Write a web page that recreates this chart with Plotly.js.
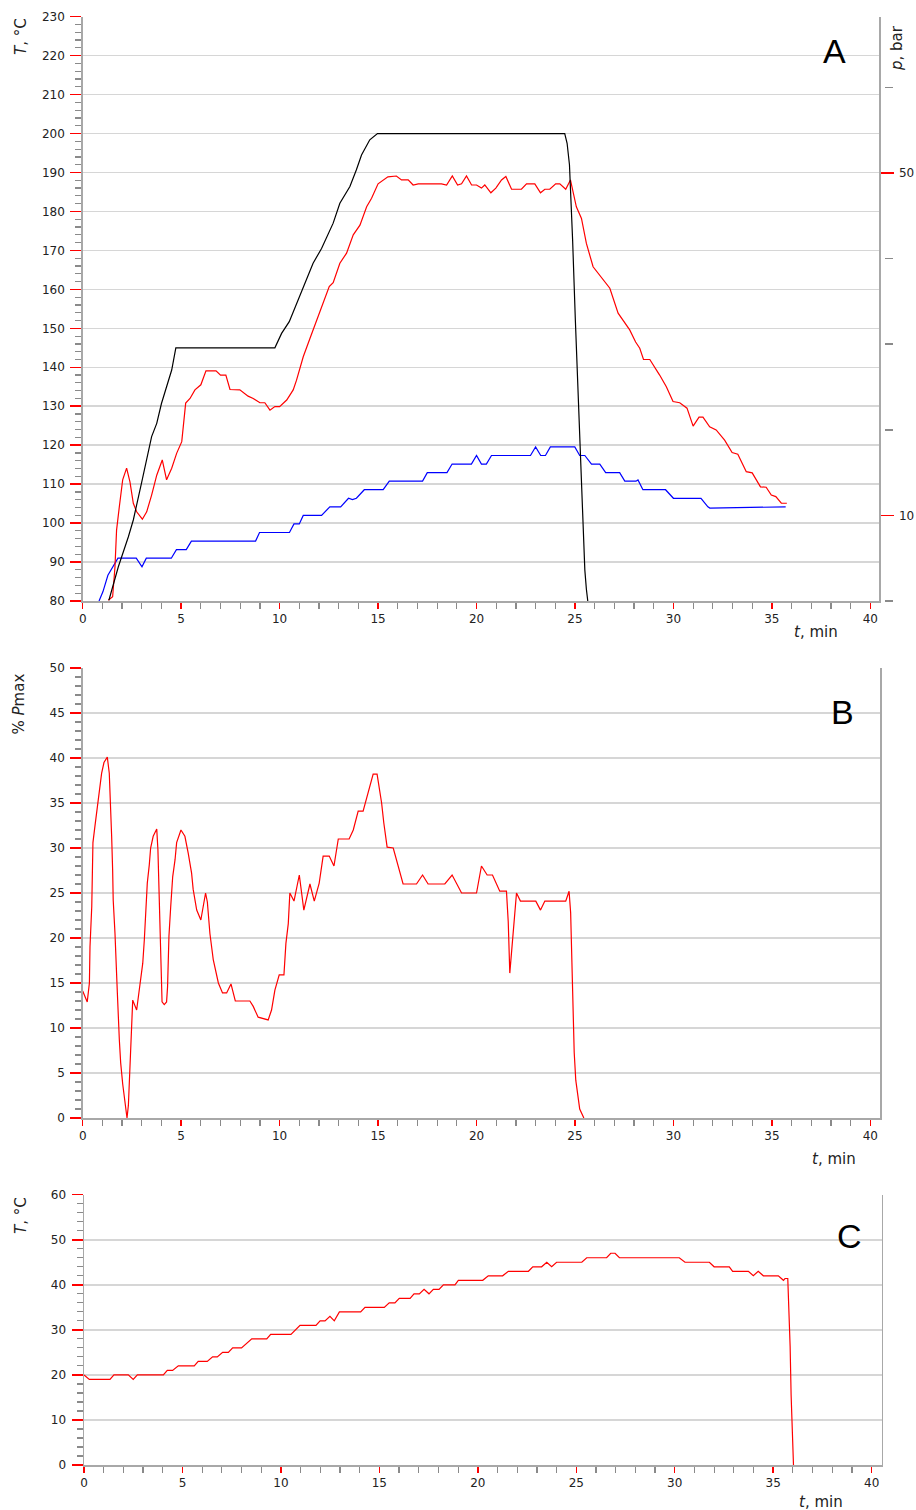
<!DOCTYPE html>
<html>
<head>
<meta charset="utf-8">
<script src="https://cdn.plot.ly/plotly-3.0.1.min.js"></script>
<style>
html,body{margin:0;padding:0;background:#fff;}
#chart{width:916px;height:1510px;}
</style>
</head>
<body>
<div id="chart"></div>
<script>
// ---------- Panel A : temperature (T, °C) and pressure (p, bar) ----------
var tBlack = [1.33, 1.55, 1.81, 2.32, 2.57, 3.0, 3.5, 3.76, 4.0, 4.52, 4.73, 9.76, 10.1, 10.49, 10.94, 11.2, 11.7, 12.13, 12.72, 13.06, 13.57, 13.9, 14.16, 14.58, 14.97, 24.48, 24.6, 24.72, 24.8, 24.88, 25.02, 25.22, 25.37, 25.5, 25.58, 25.65];
var TBlack = [80.2, 84.1, 88.8, 96.5, 100.8, 110.6, 122.2, 125.6, 130.7, 139.3, 145, 145, 148.7, 151.7, 157.3, 160.7, 166.7, 170.5, 177, 182.1, 186.4, 190.7, 194.5, 198.4, 200, 200, 197.5, 192, 183, 172.7, 152, 125, 100.8, 88, 83, 80];

var tRed = [1.3, 1.52, 1.64, 1.72, 1.86, 2.03, 2.23, 2.4, 2.57, 2.74,
  3.03, 3.25, 3.5, 3.76, 4.04, 4.26, 4.52, 4.77, 5.03, 5.23,
  5.45, 5.7, 6.0, 6.26, 6.77, 7.0, 7.27, 7.48, 7.98, 8.4,
  8.66, 9.0, 9.25, 9.51, 9.76, 10.0, 10.36, 10.69, 10.86, 11.03,
  11.2, 11.54, 11.88, 12.21, 12.52, 12.72, 13.06, 13.4, 13.74, 14.08,
  14.42, 14.67, 15.0, 15.5, 15.93, 16.19, 16.53, 16.78, 17.04, 18.22,
  18.48, 18.77, 19.04, 19.24, 19.49, 19.75, 20.0, 20.25, 20.42, 20.73,
  20.98, 21.27, 21.49, 21.78, 22.28, 22.54, 22.96, 23.25, 23.47, 23.72,
  24.02, 24.23, 24.53, 24.77, 24.9, 25.07, 25.33, 25.58, 25.92, 26.17,
  26.51, 26.77, 27.19, 27.44, 27.78, 28.08, 28.29, 28.48, 28.8, 29.3,
  29.64, 29.98, 30.32, 30.69, 31.0, 31.3, 31.5, 31.84, 32.17, 32.6,
  32.98, 33.27, 33.7, 34.0, 34.42, 34.71, 34.97, 35.2, 35.48, 35.76];
var TRed = [80.2, 81.1, 88.8, 98.2, 104.2, 111.1, 114.1, 110.6, 105.1, 102.9,
  101, 102.9, 107.2, 112.3, 116.2, 111.1, 114.1, 117.9, 120.9, 130.8,
  132, 134.2, 135.5, 139.1, 139.1, 138, 138, 134.3, 134.2, 132.6,
  132, 130.9, 130.9, 129, 129.9, 129.9, 131.6, 134.2, 136.7, 139.7,
  142.7, 147.4, 152.1, 156.4, 160.7, 161.7, 166.7, 169.3, 174, 176.5,
  181.2, 183.4, 187.1, 188.9, 189.1, 188.1, 188.1, 186.8, 187.1, 187.1,
  186.8, 189.1, 186.8, 187.1, 189.1, 186.8, 186.8, 186, 186.8, 184.8,
  186, 188.1, 189, 185.7, 185.7, 187.1, 187.1, 184.8, 185.7, 185.7,
  187.1, 187.1, 185.7, 188.1, 185.1, 181.2, 178.2, 171.8, 165.8, 164.1,
  162, 160.3, 153.9, 152.1, 149.6, 146.5, 144.9, 142, 142, 138,
  135, 131.2, 130.9, 129.5, 124.9, 127.2, 127.2, 124.7, 123.9, 121.3,
  118.1, 117.7, 113.2, 112.9, 109.3, 109.2, 107.2, 106.8, 105.1, 105.1];

var tBlue = [0.83, 1.03, 1.28, 1.54, 1.79, 2.72, 3.01, 3.23, 4.5, 4.76,
  5.26, 5.52, 8.78, 8.98, 10.5, 10.73, 11.0, 11.2, 12.13, 12.55,
  13.1, 13.5, 13.7, 13.9, 14.3, 15.26, 15.57, 17.26, 17.5, 18.5,
  18.76, 19.74, 20.0, 20.25, 20.5, 20.76, 22.74, 23.0, 23.26, 23.5,
  23.75, 24.99, 25.24, 25.5, 25.84, 26.26, 26.56, 27.27, 27.53, 28.1,
  28.2, 28.45, 29.6, 30.0, 31.4, 31.75, 31.85, 35.7];
var pBlue = [0, 1.1, 3, 4, 5, 5, 4, 5, 5, 6,
  6, 7, 7, 8, 8, 9, 9, 10, 10, 11,
  11, 12, 11.85, 12, 13, 13, 14, 14, 15, 15,
  16, 16, 17, 16, 16, 17, 17, 18, 17, 17,
  18, 18, 17, 17, 16, 16, 15, 15, 14, 14,
  14.15, 13, 13, 12, 12, 11, 10.85, 11];

var pTickLabelled = [10, 50];
var pTickPlain = [0, 20, 30, 40, 60];

// ---------- Panel B : % Pmax ----------
var tB = [0, 0.23, 0.34, 0.37, 0.46, 0.52, 0.62, 0.79, 0.96, 1.08,
  1.25, 1.35, 1.42, 1.47, 1.52, 1.55, 1.64, 1.69, 1.76, 1.86,
  1.93, 2.03, 2.15, 2.25, 2.32, 2.37, 2.44, 2.49, 2.54, 2.74,
  2.89, 3.05, 3.13, 3.2, 3.28, 3.38, 3.45, 3.58, 3.76, 3.82,
  3.86, 3.92, 3.97, 4.03, 4.14, 4.26, 4.31, 4.38, 4.47, 4.57,
  4.69, 4.77, 4.99, 5.19, 5.36, 5.53, 5.61, 5.79, 6.0, 6.24,
  6.33, 6.46, 6.63, 6.89, 7.1, 7.31, 7.53, 7.75, 8.49, 8.66,
  8.91, 9.25, 9.42, 9.59, 9.76, 9.98, 10.22, 10.32, 10.44, 10.52,
  10.73, 11.0, 11.23, 11.54, 11.76, 12.01, 12.21, 12.52, 12.76, 12.98,
  13.53, 13.74, 13.99, 14.24, 14.5, 14.75, 14.95, 15.18, 15.29, 15.46,
  15.77, 16.02, 16.27, 16.53, 16.95, 17.26, 17.54, 18.39, 18.76, 19.24,
  20.0, 20.25, 20.54, 20.81, 21.18, 21.52, 21.61, 21.69, 21.81, 21.91,
  22.03, 22.23, 23.01, 23.25, 23.47, 24.53, 24.7, 24.78, 24.83, 24.88,
  24.96, 25.04, 25.16, 25.24, 25.45];
var PB = [14.1, 12.9, 15, 19, 23.5, 30.6, 32.4, 35.7, 38.3, 39.5,
  40.1, 38.3, 35, 31.3, 27.6, 24.2, 20.5, 17.2, 13.9, 8.7,
  6.1, 3.8, 1.6, 0, 1.4, 4.6, 8.3, 11.6, 13.1, 12,
  14.4, 17.2, 19.8, 22.4, 26.1, 28.1, 30, 31.3, 32.1, 29.8,
  26.8, 20.2, 16.4, 12.9, 12.6, 12.9, 14.6, 20.2, 23.5, 26.8,
  28.7, 30.6, 32, 31.3, 29.4, 27.2, 25.4, 23.1, 22, 25,
  24, 20.5, 17.6, 15, 13.9, 13.9, 14.9, 13, 13, 12.4,
  11.2, 11, 10.9, 12, 14.2, 15.9, 15.9, 19.4, 21.6, 25,
  24.1, 27, 23.1, 26, 24.1, 26.1, 29.1, 29.1, 28, 31,
  31, 32, 34.1, 34.1, 36.1, 38.2, 38.2, 35, 32.8, 30.1,
  30, 28, 26, 26, 26, 27, 26, 26, 27, 25,
  25, 28, 27, 27, 25.2, 25.2, 21.8, 16.1, 19, 21.6,
  25, 24.1, 24.1, 23.1, 24.1, 24.1, 25.2, 22.8, 17.6, 12.6,
  7.3, 4.2, 2.2, 1.0, 0];

// ---------- Panel C : temperature (T, °C) ----------
var tC = [0, 0.27, 1.32, 1.52, 2.25, 2.5, 2.71, 4.03, 4.23, 4.5,
  4.79, 5.6, 5.8, 6.26, 6.53, 6.77, 7.04, 7.33, 7.55, 8.0,
  8.52, 9.28, 9.48, 10.51, 10.97, 11.78, 11.99, 12.24, 12.49, 12.71,
  12.97, 14.05, 14.27, 15.25, 15.5, 15.79, 16.01, 16.56, 16.76, 17.03,
  17.27, 17.52, 17.74, 18.03, 18.25, 18.84, 19.01, 20.25, 20.53, 21.26,
  21.55, 22.57, 22.79, 23.24, 23.5, 23.75, 24.0, 25.28, 25.53, 26.54,
  26.75, 26.97, 27.19, 30.23, 30.52, 31.76, 32.0, 32.77, 32.94, 33.74,
  33.99, 34.24, 34.5, 35.26, 35.52, 35.6, 35.74, 35.79, 35.86, 35.91,
  35.98, 36.03];
var TC = [20, 19, 19, 20, 20, 19, 20, 20, 21, 21,
  22, 22, 23, 23, 24, 24, 25, 25, 26, 26,
  28, 28, 29, 29, 31, 31, 32, 32, 33, 32,
  34, 34, 35, 35, 36, 36, 37, 37, 38, 38,
  39, 38, 39, 39, 40, 40, 41, 41, 42, 42,
  43, 43, 44, 44, 45, 44, 45, 45, 46, 46,
  47, 47, 46, 46, 45, 45, 44, 44, 43, 43,
  42, 43, 42, 42, 41, 41.4, 41.4, 36.3, 26.3, 15.5,
  4.8, 0];

// ---------- layout helpers ----------
var W = 916, H = 1510;
function px(x){ return x / W; }
function py(y){ return 1 - y / H; }

var TICKFONT = {family: 'DejaVu Sans', size: 12, color: '#222'};
var TITLEFONT = {family: 'DejaVu Sans', size: 15, color: '#222'};
var GRID = '#d6d6d6';
var AXLINE = '#a8a8a8';
var RED = '#ff0000';

function xAxis(dom, rng, anchor) {
  return {
    domain: dom, range: rng, anchor: anchor,
    showgrid: false, zeroline: false,
    showline: true, linecolor: AXLINE, linewidth: 1.5,
    ticks: 'outside', ticklen: 6, tickwidth: 1.5, tickcolor: RED,
    tick0: 0, dtick: 5, tickfont: TICKFONT,
    minor: {ticks: 'outside', dtick: 1, ticklen: 6, tickwidth: 1.2, tickcolor: '#8a8a8a', showgrid: false}
  };
}
function yAxis(dom, rng, dtick, mdtick, anchor) {
  return {
    domain: dom, range: rng, anchor: anchor,
    showgrid: true, gridcolor: GRID, gridwidth: 1.5, zeroline: false,
    showline: true, linecolor: AXLINE, linewidth: 1.5, mirror: true,
    ticks: 'outside', ticklen: 11, tickwidth: 1.5, tickcolor: RED,
    tick0: 0, dtick: dtick, tickfont: TICKFONT, ticklabelstandoff: 3,
    minor: {ticks: 'outside', dtick: mdtick, ticklen: 6, tickwidth: 1.2, tickcolor: '#8a8a8a', showgrid: false}
  };
}

var domA = [py(601), py(16.7)];
var domB = [py(1118), py(668)];
var domC = [py(1465), py(1194.7)];

var traces = [
  {x: [null], y: [null], xaxis: 'x', yaxis: 'y', mode: 'lines', showlegend: false, hoverinfo: 'skip'},
  {x: tBlue, y: pBlue, xaxis: 'x', yaxis: 'y2', mode: 'lines', name: 'p',
   line: {color: '#0000ff', width: 1.2}},
  {x: tRed, y: TRed, xaxis: 'x', yaxis: 'y3', mode: 'lines', name: 'T',
   line: {color: '#ff0000', width: 1.2}},
  {x: tBlack, y: TBlack, xaxis: 'x', yaxis: 'y3', mode: 'lines', name: 'T set',
   line: {color: '#000000', width: 1.2}},
  {x: [null], y: [null], xaxis: 'x', yaxis: 'y6', mode: 'lines', showlegend: false, hoverinfo: 'skip'},
  {x: tB, y: PB, xaxis: 'x2', yaxis: 'y4', mode: 'lines', name: '% Pmax',
   line: {color: '#ff0000', width: 1.2}},
  {x: tC, y: TC, xaxis: 'x3', yaxis: 'y5', mode: 'lines', name: 'T',
   line: {color: '#ff0000', width: 1.2}}
];

var yA = yAxis(domA, [80, 230], 10, 2, 'x');
yA.mirror = false;
var yB = yAxis(domB, [0, 50], 5, 1, 'x2');
var yC = yAxis(domC, [0, 60], 10, 2, 'x3');

var pRange = [0, 68.26];

function note(text, x, y, angle, font, xanchor) {
  return {text: text, x: px(x), y: py(y), xref: 'paper', yref: 'paper', showarrow: false,
    textangle: angle, xanchor: xanchor || 'center', yanchor: 'middle', font: font};
}
var LETTER = {family: 'Liberation Sans', size: 34, color: '#000'};

var layout = {
  width: W, height: H,
  margin: {l: 0, r: 0, t: 0, b: 0, pad: 0},
  paper_bgcolor: '#fff', plot_bgcolor: '#fff',
  showlegend: false,
  xaxis: xAxis([px(82.7), px(879)], [0, 40.44], 'y'),
  xaxis2: xAxis([px(82.7), px(880)], [0, 40.49], 'y4'),
  xaxis3: xAxis([px(84), px(881.7)], [0, 40.51], 'y5'),
  yaxis: yA,
  yaxis2: {
    overlaying: 'y', side: 'right', anchor: 'x', range: pRange,
    showgrid: false, zeroline: false, showline: true, linecolor: AXLINE, linewidth: 1.5,
    tickmode: 'array', tickvals: pTickLabelled, ticktext: pTickLabelled.map(String),
    ticks: 'outside', ticklen: 13, tickwidth: 1.5, tickcolor: RED, tickfont: TICKFONT,
    ticklabelstandoff: 3
  },
  yaxis3: {
    overlaying: 'y', anchor: 'x', range: [80, 230],
    showgrid: false, zeroline: false, showline: false, ticks: '', showticklabels: false
  },
  yaxis6: {
    overlaying: 'y', side: 'right', anchor: 'free', position: px(884.3), range: pRange,
    showgrid: false, zeroline: false, showline: false,
    tickmode: 'array', tickvals: pTickPlain, showticklabels: false,
    ticks: 'outside', ticklen: 7.5, tickwidth: 1.5, tickcolor: '#8a8a8a'
  },
  yaxis4: yB,
  yaxis5: yC,
  annotations: [
    note('A', 834, 51, 0, LETTER),
    note('B', 842.5, 711.5, 0, LETTER),
    note('C', 849, 1236, 0, LETTER),
    note('<i>T</i>, °C', 21, 37, -90, TITLEFONT),
    note('<i>p</i>, bar', 897, 48, -90, TITLEFONT),
    note('% <i>P</i>max', 18.5, 704, -90, TITLEFONT),
    note('<i>T</i>, °C', 21, 1216, -90, TITLEFONT),
    note('<i>t</i>, min', 840, 631.5, 0, TITLEFONT, 'right'),
    note('<i>t</i>, min', 858, 1159, 0, TITLEFONT, 'right'),
    note('<i>t</i>, min', 845, 1501.5, 0, TITLEFONT, 'right')
  ]
};

Plotly.newPlot('chart', traces, layout, {staticPlot: true, displayModeBar: false});
</script>
</body>
</html>
